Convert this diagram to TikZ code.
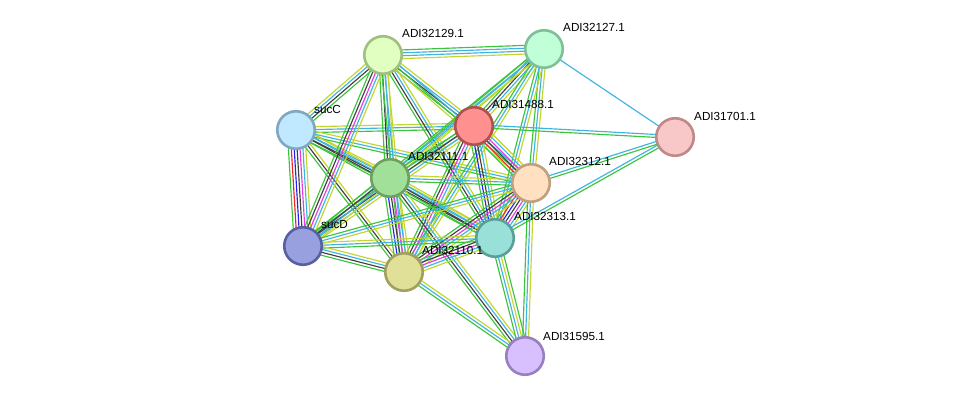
\documentclass[tikz,border=0pt]{standalone}
\usepackage{fontspec}
\setmainfont{Liberation Sans}
\usetikzlibrary{calc}
\pgfdeclarelayer{bg}
\pgfdeclarelayer{paper}
\pgfsetlayers{paper,bg,main}
\definecolor{eg}{HTML}{3DC43D}
\definecolor{ec}{HTML}{3FB4E0}
\definecolor{ey}{HTML}{C2D62E}
\definecolor{ek}{HTML}{404040}
\definecolor{em}{HTML}{E23CE2}
\definecolor{er}{HTML}{F02424}
\definecolor{eb}{HTML}{2424F0}
\tikzset{
  prot/.style={circle,minimum size=37.5pt,inner sep=0pt,line width=2.6pt},
  plabel/.style={anchor=west,font=\fontsize{11.7}{12}\selectfont,text=black,inner sep=0pt},
  eline/.style={line width=1.15pt}
}
\newcommand\sedge[3]{%
  \foreach \c [count=\i] in {#3} {\xdef\ncount{\i}}%
  \foreach \c [count=\i] in {#3} {%
    \pgfmathsetmacro\off{(\i-(\ncount+1)/2)*2.9}%
    \begin{pgfonlayer}{bg}
    \draw[eline,draw=\c] ($(#1.center)!\off pt!90:(#2.center)$) -- ($(#2.center)!\off pt!-90:(#1.center)$);
    \end{pgfonlayer}
  }%
}
\begin{document}
\begin{tikzpicture}[x=1pt,y=-1pt]
\begin{pgfonlayer}{paper}
\fill[white] (0,0) rectangle (976,403);
\end{pgfonlayer}
\useasboundingbox (0,0) rectangle (976,403);
% nodes
\node[prot,fill={rgb,255:red,224;green,255;blue,192},draw={rgb,255:red,160;green,192;blue,128}] (A) at (383,55) {};
\node[prot,fill={rgb,255:red,192;green,255;blue,216},draw={rgb,255:red,128;green,192;blue,152}] (B) at (544,49) {};
\node[prot,fill={rgb,255:red,192;green,232;blue,255},draw={rgb,255:red,128;green,168;blue,192}] (C) at (296,130) {};
\node[prot,fill={rgb,255:red,255;green,144;blue,144},draw={rgb,255:red,176;green,80;blue,80}] (R) at (474,126) {};
\node[prot,fill={rgb,255:red,248;green,200;blue,200},draw={rgb,255:red,192;green,136;blue,136}] (P) at (675,137) {};
\node[prot,fill={rgb,255:red,160;green,224;blue,152},draw={rgb,255:red,112;green,160;blue,96}] (G) at (390,178) {};
\node[prot,fill={rgb,255:red,255;green,224;blue,192},draw={rgb,255:red,192;green,160;blue,128}] (O) at (531,183) {};
\node[prot,fill={rgb,255:red,152;green,160;blue,224},draw={rgb,255:red,88;green,96;blue,160}] (D) at (303,246) {};
\node[prot,fill={rgb,255:red,152;green,224;blue,216},draw={rgb,255:red,88;green,160;blue,152}] (T) at (495,238) {};
\node[prot,fill={rgb,255:red,224;green,224;blue,152},draw={rgb,255:red,160;green,160;blue,96}] (Y) at (404,272) {};
\node[prot,fill={rgb,255:red,216;green,192;blue,255},draw={rgb,255:red,152;green,128;blue,192}] (L) at (525,356) {};
% labels
\node[plabel] (lA) at ($(A)+(19,-22)$) {ADI32129.1};
\node[plabel] (lB) at ($(B)+(19,-22)$) {ADI32127.1};
\node[plabel] (lC) at ($(C)+(18,-21)$) {sucC};
\node[plabel] (lR) at ($(R)+(18,-22)$) {ADI31488.1};
\node[plabel] (lP) at ($(P)+(19,-21)$) {ADI31701.1};
\node[plabel] (lG) at ($(G)+(18,-22)$) {ADI32111.1};
\node[plabel] (lO) at ($(O)+(18,-22)$) {ADI32312.1};
\node[plabel] (lD) at ($(D)+(18,-21)$) {sucD};
\node[plabel] (lT) at ($(T)+(19,-22)$) {ADI32313.1};
\node[plabel] (lY) at ($(Y)+(18,-22)$) {ADI32110.1};
\node[plabel] (lL) at ($(L)+(18,-20)$) {ADI31595.1};
% edges
\sedge{C}{D}{eg,er,eb,ek,em,ec,ey}
\sedge{C}{A}{eg,ek,ec,ey}
\sedge{C}{G}{eg,ek,ec,ey}
\sedge{C}{R}{eg,ec,ey}
\sedge{C}{O}{eg,ec,ey}
\sedge{C}{T}{eg,ek,ec,ey}
\sedge{C}{Y}{eg,ek,ey}
\sedge{A}{G}{eg,ek,ec,ey}
\sedge{A}{D}{eg,ek,em,ec,ey}
\sedge{A}{R}{eg,ek,ec,ey}
\sedge{A}{B}{ey,ec,ec,eg}
\sedge{A}{Y}{eg,ec,ey}
\sedge{A}{T}{eg,ek,ec,ey}
\sedge{A}{O}{ey,eg,ec}
\sedge{B}{R}{eg,ek,ec,ey}
\sedge{B}{G}{eg,ec,ey}
\sedge{B}{O}{eg,ec,ey}
\sedge{B}{T}{eg,ec,ey}
\sedge{B}{Y}{eg,ec,ey}
\sedge{B}{D}{eg,ec,ey}
\sedge{B}{P}{ec}
\sedge{R}{G}{eg,ec,ey}
\sedge{R}{O}{eg,er,ek,em,ec,ey}
\sedge{R}{T}{eg,eb,ek,ec,ey}
\sedge{R}{Y}{eg,ek,em,ec,ey}
\sedge{R}{D}{eg,ek,ec,ey}
\sedge{R}{P}{eg,ec}
\sedge{G}{O}{eg,ec,ey}
\sedge{G}{T}{eg,ek,ec,ey}
\sedge{G}{Y}{eg,eb,ek,em,ec,ey}
\sedge{G}{D}{eg,ek,ec,ey}
\sedge{G}{L}{eg,ek,ec,ey}
\sedge{O}{T}{eg,er,eb,ek,em,ec,ey}
\sedge{O}{Y}{eg,ek,em,ec,ey}
\sedge{O}{D}{eg,ec,ey}
\sedge{O}{P}{eg,ec}
\sedge{O}{L}{eg,ec,ey}
\sedge{D}{T}{eg,ec,ey}
\sedge{D}{Y}{eg,ek,ec,ey}
\sedge{T}{Y}{eg,ek,em,ec,ey}
\sedge{T}{P}{eg,ec}
\sedge{T}{L}{eg,ec,ey,eg}
\sedge{Y}{L}{eg,ec,ey}
\end{tikzpicture}
\end{document}
